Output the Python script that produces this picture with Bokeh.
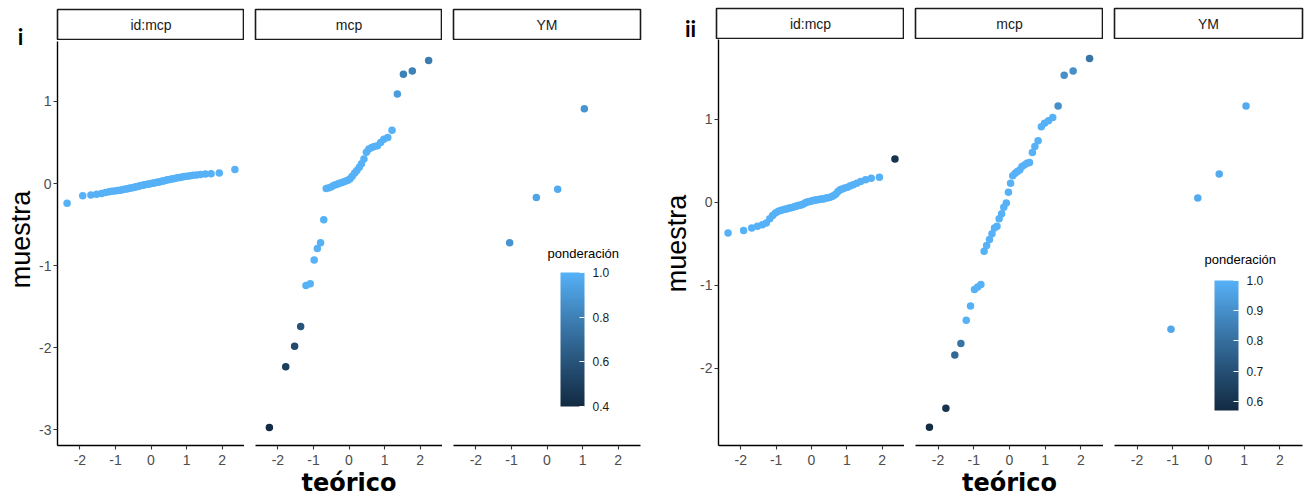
import math
from bokeh.plotting import figure
from bokeh.models import (Range1d, FixedTicker, ColorBar, LinearColorMapper, Label,
                          ColumnDataSource, PrintfTickFormatter)
from bokeh.layouts import row, column
from bokeh.transform import transform
from bokeh.embed import file_html
from bokeh.resources import INLINE

# ---------------- data ----------------
FACETS = ["id:mcp", "mcp", "YM"]
X_TICKS = [-2, -1, 0, 1, 2]

# theoretical quantiles, id:mcp (55 points)
IDMCP_X = [-2.36, -1.92, -1.69, -1.53, -1.39, -1.28, -1.18, -1.10, -1.02, -0.94,
           -0.87, -0.81, -0.75, -0.69, -0.63, -0.58, -0.52, -0.47, -0.42, -0.37,
           -0.33, -0.28, -0.23, -0.18, -0.14, -0.09, -0.05, 0.00,
           0.05, 0.09, 0.14, 0.18, 0.23, 0.28, 0.33, 0.37, 0.42, 0.47,
           0.52, 0.58, 0.63, 0.69, 0.75, 0.81, 0.87, 0.94, 1.02, 1.10,
           1.18, 1.28, 1.39, 1.53, 1.69, 1.92, 2.36]
# theoretical quantiles, mcp (40 points)
MCP_X = [-2.24, -1.78, -1.53, -1.36, -1.21, -1.09, -0.98, -0.89, -0.80, -0.71,
         -0.64, -0.56, -0.49, -0.42, -0.35, -0.29, -0.22, -0.16, -0.09, -0.03,
         0.03, 0.09, 0.16, 0.22, 0.29, 0.35, 0.42, 0.49, 0.56, 0.64,
         0.71, 0.80, 0.89, 0.98, 1.09, 1.21, 1.36, 1.53, 1.78, 2.24]
# theoretical quantiles, YM (4 points)
YM_X = [-1.05, -0.30, 0.30, 1.05]

# ---- panel i ----
I_IDMCP_Y = [-0.24, -0.15, -0.14, -0.13, -0.12, -0.11, -0.10, -0.095, -0.09, -0.085,
             -0.08, -0.075, -0.07, -0.065, -0.06, -0.055, -0.05, -0.045, -0.04, -0.035,
             -0.03, -0.025, -0.02, -0.015, -0.01, -0.008, -0.004, 0.0,
             0.004, 0.008, 0.012, 0.016, 0.02, 0.025, 0.03, 0.035, 0.04, 0.045,
             0.05, 0.055, 0.06, 0.065, 0.07, 0.075, 0.08, 0.085, 0.09, 0.095,
             0.10, 0.105, 0.11, 0.115, 0.12, 0.13, 0.17]
I_IDMCP_W = [1.0] * 55
I_MCP_Y = [-2.97, -2.23, -1.98, -1.74, -1.24, -1.22, -0.93, -0.79, -0.72, -0.44,
           -0.06, -0.05, -0.04, -0.02, -0.01, 0.00, 0.01, 0.02, 0.03, 0.04,
           0.06, 0.09, 0.13, 0.16, 0.20, 0.24, 0.30, 0.38, 0.42, 0.44,
           0.45, 0.46, 0.50, 0.54, 0.56, 0.65, 1.09, 1.33, 1.37, 1.50]
I_MCP_W = [0.40, 0.50, 0.55, 0.60, 1.0, 1.0, 1.0, 1.0, 1.0, 1.0,
           1.0, 1.0, 1.0, 1.0, 1.0, 1.0, 1.0, 1.0, 1.0, 1.0,
           1.0, 1.0, 1.0, 1.0, 1.0, 1.0, 1.0, 1.0, 1.0, 1.0,
           1.0, 1.0, 1.0, 1.0, 1.0, 1.0, 0.92, 0.80, 0.80, 0.78]
I_YM_Y = [-0.72, -0.17, -0.07, 0.91]
I_YM_W = [0.88, 0.95, 0.97, 0.88]
I_Y_TICKS = [-3, -2, -1, 0, 1]
I_CB_TICKS = [0.4, 0.6, 0.8, 1.0]

# ---- panel ii ----
II_IDMCP_Y = [-0.37, -0.34, -0.31, -0.29, -0.27, -0.25, -0.20, -0.16, -0.13, -0.11,
              -0.10, -0.09, -0.085, -0.08, -0.07, -0.065, -0.06, -0.05, -0.045, -0.04,
              -0.035, -0.03, -0.02, -0.01, 0.0, 0.005, 0.01, 0.015,
              0.02, 0.025, 0.03, 0.03, 0.035, 0.04, 0.04, 0.045, 0.05, 0.055,
              0.06, 0.07, 0.08, 0.10, 0.13, 0.15, 0.16, 0.17, 0.18, 0.20,
              0.21, 0.23, 0.25, 0.27, 0.29, 0.30, 0.52]
II_IDMCP_W = [1.0] * 54 + [0.60]
II_MCP_Y = [-2.71, -2.48, -1.84, -1.70, -1.42, -1.25, -1.05, -1.02, -0.99, -0.59,
            -0.52, -0.45, -0.38, -0.31, -0.29, -0.20, -0.14, -0.06, -0.01, 0.12,
            0.23, 0.32, 0.35, 0.37, 0.39, 0.43, 0.45, 0.47, 0.48, 0.60,
            0.67, 0.74, 0.91, 0.95, 0.98, 1.02, 1.16, 1.53, 1.58, 1.73]
II_MCP_W = [0.57, 0.60, 0.78, 0.82, 1.0, 1.0, 1.0, 1.0, 1.0, 1.0,
            1.0, 1.0, 1.0, 1.0, 1.0, 1.0, 1.0, 1.0, 1.0, 1.0,
            1.0, 1.0, 1.0, 1.0, 1.0, 1.0, 1.0, 1.0, 1.0, 1.0,
            1.0, 1.0, 1.0, 1.0, 1.0, 1.0, 0.90, 0.90, 0.90, 0.82]
II_YM_Y = [-1.53, 0.05, 0.34, 1.16]
II_YM_W = [0.97, 0.98, 0.98, 0.98]
II_Y_TICKS = [-2, -1, 0, 1]
II_CB_TICKS = [0.6, 0.7, 0.8, 0.9, 1.0]

# ---------------- colour gradient (ggplot default, Lab interpolation) ----------------
LOW_COL, HIGH_COL = "#132B43", "#56B1F7"
WN = (0.95047, 1.0, 1.08883)


def _lin(c):
    c = c / 255.0
    return c / 12.92 if c <= 0.04045 else ((c + 0.055) / 1.055) ** 2.4


def _gam(c):
    c = 12.92 * c if c <= 0.0031308 else 1.055 * c ** (1 / 2.4) - 0.055
    return max(0, min(255, int(round(c * 255))))


def rgb2lab(h):
    r, g, b = [_lin(int(h[i:i + 2], 16)) for i in (1, 3, 5)]
    X = 0.4124564 * r + 0.3575761 * g + 0.1804375 * b
    Y = 0.2126729 * r + 0.7151522 * g + 0.0721750 * b
    Z = 0.0193339 * r + 0.1191920 * g + 0.9503041 * b
    f = lambda t: t ** (1 / 3) if t > 216 / 24389 else (24389 / 27 * t + 16) / 116
    fx, fy, fz = f(X / WN[0]), f(Y / WN[1]), f(Z / WN[2])
    return (116 * fy - 16, 500 * (fx - fy), 200 * (fy - fz))


def lab2hex(L, a, b):
    fy = (L + 16) / 116
    fx = fy + a / 500
    fz = fy - b / 200
    finv = lambda t: t ** 3 if t ** 3 > 216 / 24389 else (116 * t - 16) / (24389 / 27)
    X, Y, Z = finv(fx) * WN[0], finv(fy) * WN[1], finv(fz) * WN[2]
    r = 3.2404542 * X - 1.5371385 * Y - 0.4985314 * Z
    g = -0.9692660 * X + 1.8760108 * Y + 0.0415560 * Z
    bb = 0.0556434 * X - 0.2040259 * Y + 1.0572252 * Z
    return "#%02x%02x%02x" % (_gam(r), _gam(g), _gam(bb))


_l0, _l1 = rgb2lab(LOW_COL), rgb2lab(HIGH_COL)
PALETTE = [lab2hex(*[_l0[k] + (_l1[k] - _l0[k]) * t / 255 for k in range(3)]) for t in range(256)]

TICK_FONT = "Liberation Sans"


def style_axis(ax, standoff):
    ax.axis_line_color = "black"
    ax.axis_line_width = 1.4
    ax.major_tick_line_color = "#333333"
    ax.major_tick_line_width = 1.1
    ax.major_tick_out = 4
    ax.major_tick_in = 0
    ax.minor_tick_line_color = None
    ax.major_label_text_font = TICK_FONT
    ax.major_label_text_font_size = "14px"
    ax.major_label_text_color = "#4D4D4D"
    ax.major_label_standoff = standoff
    ax.formatter = PrintfTickFormatter(format="%d")


def blank_fig(w, h):
    f = figure(width=w, height=h, x_range=Range1d(0, 1), y_range=Range1d(0, 1),
               output_backend="svg", toolbar_location=None, min_border=0,
               x_axis_location=None, y_axis_location=None)
    f.outline_line_color = None
    f.grid.visible = False
    return f


def build_panel(tag, gutter_w, left1, fw, gap, right3, strip_top, top_pad, frame_h,
                bottom, y_lo, y_hi, y_ticks, data, w_lo, w_hi, cb_ticks,
                tag_pos, ylab_pos, cb_loc, cb_h, cb_title_pos, total_h=500):
    mapper = LinearColorMapper(palette=PALETTE, low=w_lo, high=w_hi)

    # gutter with panel tag and y title
    gut = blank_fig(gutter_w, total_h)
    gut.add_layout(Label(x=tag_pos[0], y=total_h - tag_pos[1], x_units="screen", y_units="screen",
                         text=tag, text_font="Lato", text_font_style="bold",
                         text_font_size="22px", text_color="black",
                         text_align="center", text_baseline="middle"))
    gut.add_layout(Label(x=ylab_pos[0], y=total_h - ylab_pos[1], x_units="screen", y_units="screen",
                         text="muestra", angle=math.pi / 2, text_font="Liberation Sans",
                         text_font_size="27px", text_color="black",
                         text_align="center", text_baseline="middle"))

    strips, facets = [], []
    for k, name in enumerate(FACETS):
        lb = left1 if k == 0 else gap
        rb = right3 if k == 2 else 0
        w = lb + fw + rb
        s = figure(width=w, height=strip_top + 31, x_range=Range1d(0, 1), y_range=Range1d(0, 1),
                   output_backend="svg", toolbar_location=None, min_border=0,
                   min_border_left=lb, min_border_right=rb, min_border_top=strip_top,
                   min_border_bottom=0, x_axis_location=None, y_axis_location=None)
        s.grid.visible = False
        s.outline_line_color = "#1A1A1A"
        s.outline_line_width = 1.6
        s.add_layout(Label(x=0.5, y=0.5, text=name, text_font="Liberation Sans",
                           text_font_size="14px", text_color="#1A1A1A",
                           text_align="center", text_baseline="middle"))
        strips.append(s)

        xs, ys, ws = data[k]
        p = figure(width=w, height=top_pad + frame_h + bottom,
                   x_range=Range1d(-2.63, 2.63), y_range=Range1d(y_lo, y_hi),
                   output_backend="svg", toolbar_location=None, min_border=0,
                   min_border_left=lb, min_border_right=rb, min_border_top=top_pad,
                   min_border_bottom=bottom,
                   y_axis_location="left" if k == 0 else None)
        p.grid.visible = False
        p.outline_line_color = None
        p.xaxis.ticker = FixedTicker(ticks=X_TICKS)
        style_axis(p.xaxis[0], 5)
        if k == 0:
            p.yaxis.ticker = FixedTicker(ticks=y_ticks)
            style_axis(p.yaxis[0], 2)
        if k == 1:
            ax = p.xaxis[0]
            ax.axis_label = "teórico"
            ax.axis_label_text_font = "DejaVu Sans"
            ax.axis_label_text_font_style = "bold"
            ax.axis_label_text_font_size = "24px"
            ax.axis_label_text_color = "black"
            ax.axis_label_standoff = 1
        src = ColumnDataSource(dict(x=xs, y=ys, w=ws))
        p.scatter("x", "y", source=src, size=7.5,
                  fill_color=transform("w", mapper), line_color=None)
        if k == 2:
            cb = ColorBar(color_mapper=mapper, ticker=FixedTicker(ticks=cb_ticks),
                          formatter=PrintfTickFormatter(format="%.1f"),
                          width=24, height=cb_h, location=cb_loc, padding=0,
                          bar_line_color=None, major_tick_line_color="white",
                          major_tick_line_width=1.2,
                          major_tick_in=5, major_tick_out=0, minor_tick_line_color=None,
                          label_standoff=8, major_label_text_font=TICK_FONT,
                          major_label_text_font_size="12px",
                          major_label_text_color="#1A1A1A",
                          background_fill_alpha=0, border_line_color=None)
            p.add_layout(cb)
            p.add_layout(Label(x=cb_title_pos[0], y=cb_title_pos[1], x_units="screen",
                               y_units="screen", text="ponderación",
                               text_font="Liberation Sans", text_font_size="13px",
                               text_color="black", text_align="left",
                               text_baseline="middle"))
        facets.append(p)

    return row(gut, column(row(*strips), row(*facets)))


panel_i = build_panel(
    "i", 35, 22, 187, 11, 20, 9, 1, 404, 55, -3.19, 1.73, I_Y_TICKS,
    [(IDMCP_X, I_IDMCP_Y, I_IDMCP_W), (MCP_X, I_MCP_Y, I_MCP_W), (YM_X, I_YM_Y, I_YM_W)],
    0.4, 1.0, I_CB_TICKS,
    tag_pos=(20, 36), ylab_pos=(20, 239),
    cb_loc=(107, 39), cb_h=134, cb_title_pos=(94, 192))

panel_ii = build_panel(
    "ii", 37, 19, 188, 11, 7, 8, 0, 406, 55, -2.93, 1.96, II_Y_TICKS,
    [(IDMCP_X, II_IDMCP_Y, II_IDMCP_W), (MCP_X, II_MCP_Y, II_MCP_W), (YM_X, II_YM_Y, II_YM_W)],
    0.57, 1.0, II_CB_TICKS,
    tag_pos=(30, 28), ylab_pos=(16, 243),
    cb_loc=(100, 35), cb_h=130, cb_title_pos=(90, 186))

page = row(panel_i, panel_ii)
open("out.html", "w").write(file_html(page, INLINE))
